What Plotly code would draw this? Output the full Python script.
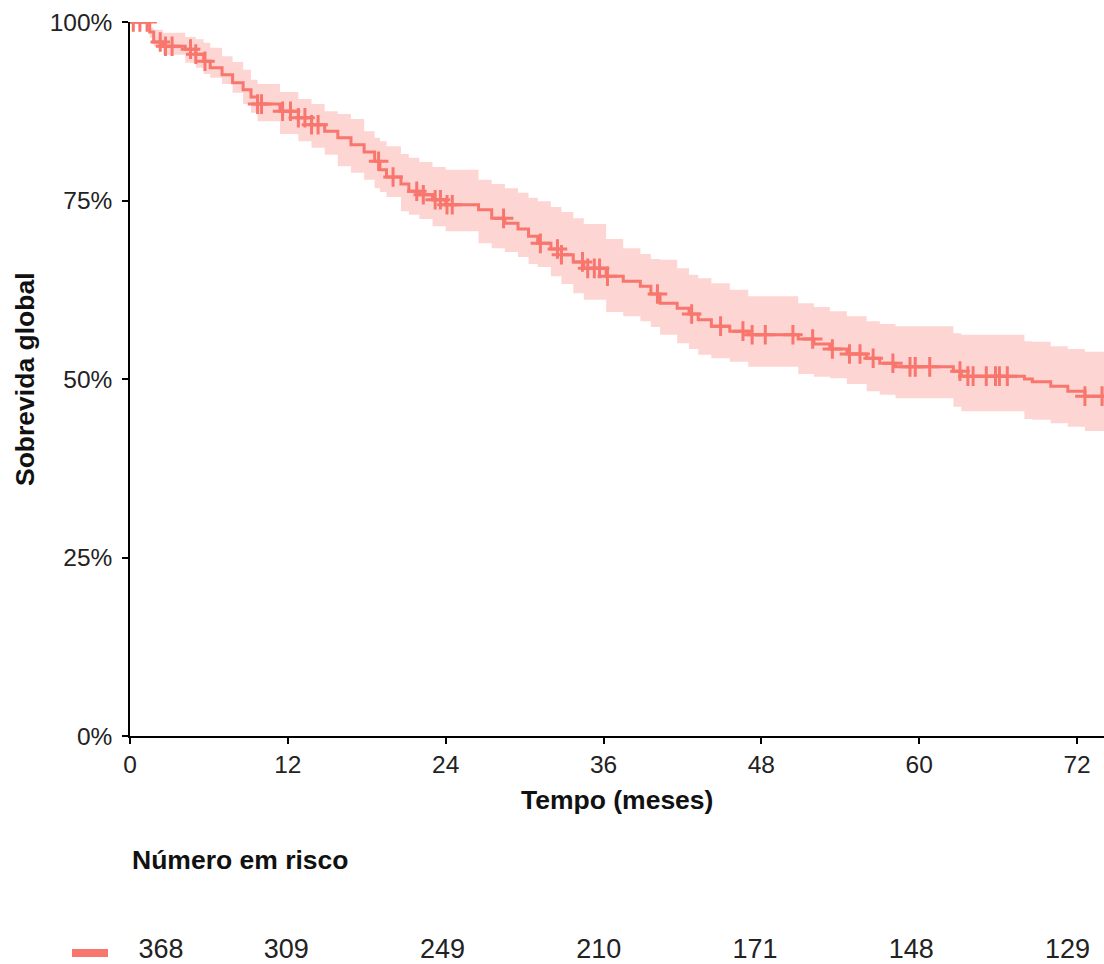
import numpy as np
import plotly.graph_objects as go

# Kaplan-Meier estimate (months, survival, 95% CI)
event_times = [0, 1.5, 1.8, 2.5, 4.2, 5.0, 5.6, 6.1, 7.0, 7.8, 8.6, 9.2, 9.7, 11.4, 12.8, 13.8,
               14.8, 15.8, 16.8, 17.8, 18.6, 19.0, 19.5, 20.6, 21.2, 22.0, 23.0, 24.0, 26.5,
               27.5, 28.5, 29.5, 30.3, 31.0, 32.0, 32.8, 33.7, 34.5, 36.2, 37.5, 38.8, 39.6,
               40.3, 41.6, 42.5, 43.2, 44.2, 45.6, 47.0, 50.8, 52.0, 53.2, 54.5, 56.0, 57.0,
               58.2, 62.6, 63.2, 68.0, 68.6, 70.0, 71.3, 72.6, 75.0]
survival = [1.0, 0.986, 0.972, 0.966, 0.962, 0.955, 0.945, 0.936, 0.926, 0.915, 0.905, 0.895,
            0.885, 0.875, 0.866, 0.856, 0.847, 0.838, 0.828, 0.818, 0.805, 0.793, 0.783, 0.773,
            0.763, 0.758, 0.751, 0.744, 0.737, 0.725, 0.718, 0.710, 0.700, 0.690, 0.682, 0.674,
            0.664, 0.655, 0.644, 0.637, 0.630, 0.619, 0.606, 0.599, 0.591, 0.583, 0.574, 0.567,
            0.562, 0.556, 0.549, 0.542, 0.535, 0.529, 0.522, 0.517, 0.511, 0.504, 0.500, 0.496,
            0.490, 0.483, 0.476, 0.476]
ci_upper = [1.0, 0.992, 0.989, 0.985, 0.979, 0.976, 0.971, 0.964, 0.952, 0.944, 0.933, 0.919,
            0.913, 0.902, 0.892, 0.885, 0.875, 0.871, 0.864, 0.847, 0.838, 0.833, 0.826, 0.815,
            0.810, 0.804, 0.797, 0.793, 0.779, 0.773, 0.767, 0.761, 0.754, 0.749, 0.741, 0.734,
            0.725, 0.717, 0.696, 0.683, 0.675, 0.668, 0.667, 0.655, 0.646, 0.641, 0.634, 0.625,
            0.616, 0.606, 0.601, 0.595, 0.588, 0.581, 0.577, 0.574, 0.564, 0.562, 0.553, 0.552,
            0.546, 0.542, 0.538, 0.538]
ci_lower = [1.0, 0.978, 0.966, 0.954, 0.943, 0.936, 0.927, 0.922, 0.913, 0.901, 0.885, 0.873,
            0.861, 0.843, 0.833, 0.824, 0.814, 0.798, 0.789, 0.779, 0.767, 0.762, 0.755, 0.735,
            0.730, 0.724, 0.714, 0.707, 0.690, 0.683, 0.678, 0.671, 0.661, 0.657, 0.644, 0.633,
            0.620, 0.611, 0.594, 0.588, 0.581, 0.573, 0.562, 0.550, 0.542, 0.534, 0.529, 0.524,
            0.517, 0.507, 0.503, 0.501, 0.493, 0.483, 0.478, 0.473, 0.461, 0.455, 0.444, 0.443,
            0.438, 0.433, 0.427, 0.427]

censor_times = [0.25, 0.75, 1.3, 2.3, 2.7, 3.2, 4.6, 5.0, 5.7, 9.7, 10.0, 11.6, 12.2, 12.8,
                13.3, 13.8, 14.3, 18.9, 20.0, 21.8, 22.3, 23.2, 23.6, 24.1, 24.5, 28.4, 31.2,
                32.5, 32.8, 34.4, 34.8, 35.3, 35.7, 36.3, 40.1, 42.7, 44.9, 46.6, 47.3, 48.3,
                50.4, 51.9, 53.4, 54.7, 55.5, 56.5, 58.0, 59.3, 59.7, 60.8, 63.1, 63.7, 64.1,
                65.1, 65.8, 66.1, 66.7, 72.6, 73.9]

risk_times = [0, 12, 24, 36, 48, 60, 72]
risk_counts = [368, 309, 249, 210, 171, 148, 129]

x_ticks = [0, 12, 24, 36, 48, 60, 72]
y_ticks = [0, 0.25, 0.5, 0.75, 1.0]
y_ticktext = ["0%", "25%", "50%", "75%", "100%"]

RED = "#F8766D"
FONT = "Liberation Sans, Arial, sans-serif"

# survival value at each censoring time (step function lookup)
et = np.array(event_times)
sv = np.array(survival)
idx = np.searchsorted(et, np.array(censor_times), side="right") - 1
censor_surv = sv[idx]

fig = go.Figure()
fig.add_trace(go.Scatter(x=event_times, y=ci_upper, mode="lines", line=dict(width=0, shape="hv"),
                         hoverinfo="skip", showlegend=False))
fig.add_trace(go.Scatter(x=event_times, y=ci_lower, mode="lines", line=dict(width=0, shape="hv"),
                         fill="tonexty", fillcolor="rgba(248,118,109,0.3)",
                         hoverinfo="skip", showlegend=False))
fig.add_trace(go.Scatter(x=event_times, y=survival, mode="lines",
                         line=dict(color=RED, width=3, shape="hv"), showlegend=False))
fig.add_trace(go.Scatter(x=censor_times, y=censor_surv, mode="markers",
                         marker=dict(symbol="cross-thin", size=14, line=dict(color=RED, width=3)),
                         showlegend=False))

# risk table
fig.add_trace(go.Scatter(x=risk_times, y=[0.5] * len(risk_times), mode="markers+text",
                         text=[str(v) for v in risk_counts],
                         marker=dict(size=[12] + [0] * (len(risk_times) - 1),
                                     color="rgba(0,0,0,0)"),
                         textposition=["middle right"] + ["middle center"] * (len(risk_times) - 1),
                         textfont=dict(size=27, color="#222", family=FONT),
                         xaxis="x2", yaxis="y2", showlegend=False, hoverinfo="skip"))

W, H = 1104, 964
ML, MT = 130, 22
plot_h = H - MT
ydom0 = (H - 736) / plot_h

axis_common = dict(showline=True, linecolor="black", linewidth=1.5, ticks="outside", ticklen=6,
                   tickwidth=1.5, tickcolor="black", showgrid=False, zeroline=False,
                   automargin=False,
                   tickfont=dict(size=24.5, color="#222", family=FONT))

fig.update_layout(
    template="none",
    width=W, height=H, autosize=False,
    margin=dict(l=ML, r=0, t=MT, b=0, pad=0, autoexpand=False),
    plot_bgcolor="white", paper_bgcolor="white",
    xaxis=dict(domain=[0, 1], range=[0, 74.05], tickvals=x_ticks, anchor="y", **axis_common),
    yaxis=dict(domain=[ydom0, 1], range=[0, 1], tickvals=y_ticks, ticktext=y_ticktext,
               anchor="x", ticklabelstandoff=5, **axis_common),
    xaxis2=dict(domain=[0, 1], range=[0, 74.8], visible=False, anchor="y2", automargin=False),
    yaxis2=dict(domain=[0, 26 / plot_h], range=[0, 1], visible=False, anchor="x2",
                automargin=False),
    font=dict(family=FONT, color="black"),
)

def px_x(p):
    return (p - ML) / (W - ML)

def px_y(p):
    return (H - p) / plot_h

TITLE_FONT = dict(size=26.5, color="#111", family=FONT)
fig.add_annotation(text="<b>Tempo (meses)</b>", xref="paper", yref="paper",
                   x=0.5, y=px_y(800), xanchor="center", yanchor="middle",
                   showarrow=False, font=TITLE_FONT)
fig.add_annotation(text="<b>Sobrevida global</b>", xref="paper", yref="paper",
                   x=px_x(25), y=px_y(379), xanchor="center", yanchor="middle", textangle=-90,
                   showarrow=False, font=TITLE_FONT)
fig.add_annotation(text="<b>Número em risco</b>", xref="paper", yref="paper",
                   x=0, y=px_y(860), xanchor="left", yanchor="middle",
                   showarrow=False, font=TITLE_FONT)
fig.add_shape(type="rect", xref="paper", yref="paper",
              x0=px_x(72), x1=px_x(108), y0=px_y(957), y1=px_y(949),
              fillcolor=RED, line=dict(width=0))

post = """
var st = document.createElement('style');
st.textContent = 'html,body{margin:0;padding:0;overflow:hidden;}';
document.head.appendChild(st);
"""
fig.write_html("out.html", config={"displayModeBar": False, "responsive": False}, post_script=post)
